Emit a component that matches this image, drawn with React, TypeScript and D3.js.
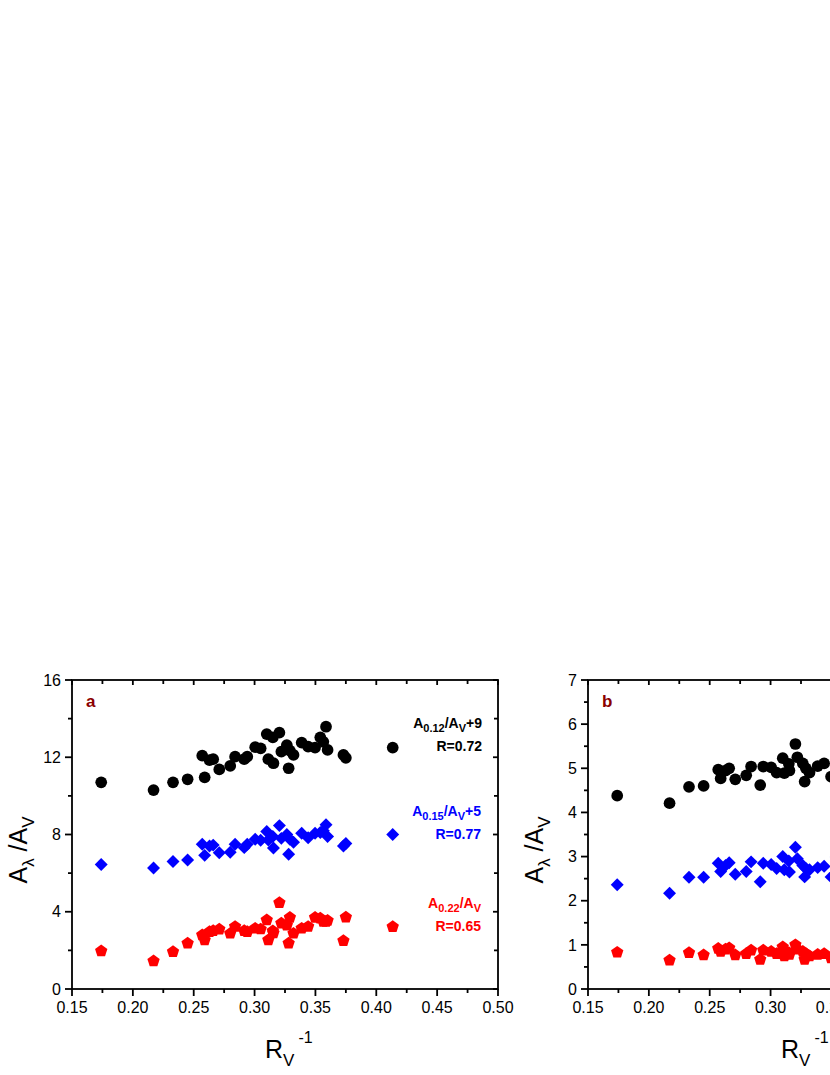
import React from "react";
import * as d3 from "d3";

// shared abscissa: R_V^-1
const rvInv = [0.174, 0.217, 0.233, 0.245, 0.257, 0.259, 0.263, 0.266, 0.271, 0.280, 0.284, 0.2915, 0.294, 0.3005, 0.305, 0.310, 0.3113, 0.315, 0.3155, 0.3204, 0.322, 0.3265, 0.328, 0.329, 0.332, 0.3387, 0.344, 0.3497, 0.354, 0.3565, 0.3587, 0.360, 0.373, 0.375, 0.4135];

// panel a
const aBlack = [10.7, 10.3, 10.7, 10.86, 12.08, 10.96, 11.85, 11.9, 11.37, 11.55, 12.03, 11.9, 12.03, 12.52, 12.46, 13.2, 11.9, 13.03, 11.69, 13.27, 12.29, 12.63, 11.43, 12.34, 12.12, 12.76, 12.55, 12.5, 13.03, 12.8, 13.58, 12.38, 12.12, 11.97, 12.5];
const aBlue = [6.45, 6.27, 6.6, 6.68, 7.5, 6.92, 7.4, 7.45, 7.05, 7.08, 7.5, 7.32, 7.5, 7.75, 7.7, 8.15, 7.72, 7.9, 7.3, 8.46, 7.8, 8.0, 6.98, 7.75, 7.6, 8.06, 7.83, 8.06, 8.1, 8.2, 8.5, 7.9, 7.4, 7.53, 8.0];
const aRed = [1.97, 1.45, 1.93, 2.37, 2.8, 2.54, 2.97, 3.02, 3.09, 2.88, 3.23, 3.02, 2.97, 3.14, 3.1, 3.57, 2.54, 3.0, 2.9, 4.47, 3.4, 3.3, 2.37, 3.7, 2.88, 3.14, 3.23, 3.7, 3.66, 3.5, 3.49, 3.55, 2.5, 3.71, 3.22];

// panel b
const bBlack = [4.38, 4.21, 4.58, 4.6, 4.97, 4.77, 4.95, 5.0, 4.75, 4.84, 5.04, 4.62, 5.04, 5.02, 4.9, 5.23, 4.89, 5.1, 4.95, 5.55, 5.25, 5.11, 4.7, 5.0, 4.9, 5.05, 5.11, 4.81, 5.26, 5.0, 5.15, 4.95, 5.0, 4.9, 4.95];
const bBlue = [2.36, 2.17, 2.53, 2.53, 2.85, 2.66, 2.8, 2.86, 2.6, 2.66, 2.88, 2.43, 2.85, 2.82, 2.73, 3.0, 2.7, 2.9, 2.65, 3.21, 2.95, 2.8, 2.54, 2.73, 2.7, 2.75, 2.78, 2.54, 2.99, 2.8, 2.9, 2.7, 2.75, 2.7, 2.75];
const bRed = [0.83, 0.65, 0.82, 0.77, 0.92, 0.85, 0.9, 0.93, 0.77, 0.8, 0.88, 0.67, 0.88, 0.85, 0.8, 0.95, 0.75, 0.82, 0.78, 1.0, 0.9, 0.85, 0.67, 0.8, 0.75, 0.78, 0.8, 0.7, 0.85, 0.78, 0.8, 0.75, 0.78, 0.76, 0.78];

const xTicks = [0.15, 0.2, 0.25, 0.3, 0.35, 0.4, 0.45, 0.5];
const xTickLabels = ["0.15", "0.20", "0.25", "0.30", "0.35", "0.40", "0.45", "0.50"];
const aYTicks = [0, 4, 8, 12, 16];
const bYTicks = [0, 1, 2, 3, 4, 5, 6, 7];

const pentagon = {
  draw(ctx: any, size: number) {
    const r = Math.sqrt(size);
    for (let k = 0; k < 5; k++) {
      const ang = -Math.PI / 2 + (k * 2 * Math.PI) / 5;
      const px = r * Math.cos(ang);
      const py = r * Math.sin(ang);
      if (k === 0) ctx.moveTo(px, py);
      else ctx.lineTo(px, py);
    }
    ctx.closePath();
  },
};

const circlePath = d3.symbol().type(d3.symbolCircle).size(108)() as string;
const diamondPath = d3.symbol().type(d3.symbolSquare).size(84)() as string;
const pentPath = d3.symbol().type(pentagon as any).size(42)() as string;

const FONT = "'Liberation Sans', Arial, Helvetica, sans-serif";
const TOP = 680;
const BOTTOM = 989;
const W = 426;

type Series = { vals: number[]; color: string; kind: "circle" | "diamond" | "pent" };

function Panel({ left, yMax, yTicks, yMinorStep, series, letter, legend }: any) {
  const x = d3.scaleLinear().domain([0.15, 0.5]).range([left, left + W]);
  const y = d3.scaleLinear().domain([0, yMax]).range([BOTTOM, TOP]);
  const xMinor = d3.range(0.175, 0.5, 0.05);
  const yMinor = d3.range(yMinorStep, yMax, yMinorStep * 2);
  const right = left + W;
  const sw = 1.8;
  const els: any[] = [];
  xTicks.forEach((t, i) => {
    els.push(<line key={"xb" + i} x1={x(t)} x2={x(t)} y1={BOTTOM} y2={BOTTOM + 7} stroke="#000" strokeWidth={sw} />);
    els.push(<line key={"xt" + i} x1={x(t)} x2={x(t)} y1={TOP} y2={TOP + 5} stroke="#000" strokeWidth={sw} />);
    els.push(
      <text key={"xl" + i} x={x(t)} y={1013} textAnchor="middle" fontSize={16} fontFamily={FONT}>
        {xTickLabels[i]}
      </text>
    );
  });
  xMinor.forEach((t: number, i: number) => {
    els.push(<line key={"xbm" + i} x1={x(t)} x2={x(t)} y1={BOTTOM} y2={BOTTOM + 4} stroke="#000" strokeWidth={sw} />);
    els.push(<line key={"xtm" + i} x1={x(t)} x2={x(t)} y1={TOP} y2={TOP + 4} stroke="#000" strokeWidth={sw} />);
  });
  yTicks.forEach((t: number, i: number) => {
    els.push(<line key={"yl" + i} x1={left - 7} x2={left} y1={y(t)} y2={y(t)} stroke="#000" strokeWidth={sw} />);
    els.push(<line key={"yr" + i} x1={right - 5} x2={right} y1={y(t)} y2={y(t)} stroke="#000" strokeWidth={sw} />);
    els.push(
      <text key={"ylab" + i} x={left - 11} y={y(t) + 5.7} textAnchor="end" fontSize={16} fontFamily={FONT}>
        {String(t)}
      </text>
    );
  });
  yMinor.forEach((t: number, i: number) => {
    els.push(<line key={"ylm" + i} x1={left - 4} x2={left} y1={y(t)} y2={y(t)} stroke="#000" strokeWidth={sw} />);
    els.push(<line key={"yrm" + i} x1={right - 4} x2={right} y1={y(t)} y2={y(t)} stroke="#000" strokeWidth={sw} />);
  });

  const marks: any[] = [];
  series.forEach((s: Series, si: number) => {
    s.vals.forEach((v, i) => {
      const cx = x(rvInv[i]);
      const cy = y(v);
      if (s.kind === "circle")
        marks.push(<path key={si + "-" + i} d={circlePath} transform={`translate(${cx},${cy})`} fill={s.color} />);
      else if (s.kind === "diamond")
        marks.push(<path key={si + "-" + i} d={diamondPath} transform={`translate(${cx},${cy}) rotate(45)`} fill={s.color} />);
      else marks.push(<path key={si + "-" + i} d={pentPath} transform={`translate(${cx},${cy})`} fill={s.color} />);
    });
  });

  return (
    <g>
      {marks}
      <rect x={left} y={TOP} width={W} height={BOTTOM - TOP} fill="none" stroke="#000" strokeWidth={sw} />
      {els}
      <text x={left + 14} y={707} fontSize={17} fontWeight="bold" fill="#8b0000" fontFamily={FONT}>
        {letter}
      </text>
      <text transform={`translate(${left - 45},850) rotate(-90)`} textAnchor="middle" fontSize={25} fontFamily={FONT}>
        A<tspan fontSize={17} dy={7}>λ</tspan>
        <tspan dy={-7}> /A</tspan>
        <tspan fontSize={17} dy={7}>V</tspan>
      </text>
      <text x={left + 193} y={1058} fontSize={25} fontFamily={FONT}>
        R<tspan fontSize={17} dy={8}>V</tspan>
        <tspan fontSize={16} dy={-23} dx={4}>-1</tspan>
      </text>
      {legend}
    </g>
  );
}

function LegendItem({ x, y, color, sub, rest, r }: any) {
  return (
    <g fill={color} fontFamily={FONT} fontWeight="bold" textAnchor="end">
      <text x={x} y={y} fontSize={14}>
        A<tspan fontSize={11} dy={4}>{sub}</tspan>
        <tspan dy={-4}>/A</tspan>
        <tspan fontSize={11} dy={4}>V</tspan>
        {rest ? <tspan dy={-4}>{rest}</tspan> : null}
      </text>
      <text x={x} y={y + 23} fontSize={14}>
        {r}
      </text>
    </g>
  );
}

export default function App() {
  const legendA = (
    <g>
      <LegendItem x={482} y={728} color="#000" sub="0.12" rest="+9" r="R=0.72" />
      <LegendItem x={481} y={816} color="#0000ff" sub="0.15" rest="+5" r="R=0.77" />
      <LegendItem x={481} y={908} color="#ff0000" sub="0.22" rest="" r="R=0.65" />
    </g>
  );
  return (
    <svg
      width={830}
      height={1075}
      style={{ position: "absolute", left: 0, top: 0, display: "block", background: "#fff" }}
    >
      <rect x={0} y={0} width={830} height={1075} fill="#fff" />
      <Panel
        left={72}
        yMax={16}
        yTicks={aYTicks}
        yMinorStep={2}
        letter="a"
        legend={legendA}
        series={[
          { vals: aBlack, color: "#000", kind: "circle" },
          { vals: aBlue, color: "#0000ff", kind: "diamond" },
          { vals: aRed, color: "#ff0000", kind: "pent" },
        ]}
      />
      <Panel
        left={588}
        yMax={7}
        yTicks={bYTicks}
        yMinorStep={0.5}
        letter="b"
        legend={null}
        series={[
          { vals: bBlack, color: "#000", kind: "circle" },
          { vals: bBlue, color: "#0000ff", kind: "diamond" },
          { vals: bRed, color: "#ff0000", kind: "pent" },
        ]}
      />
    </svg>
  );
}
